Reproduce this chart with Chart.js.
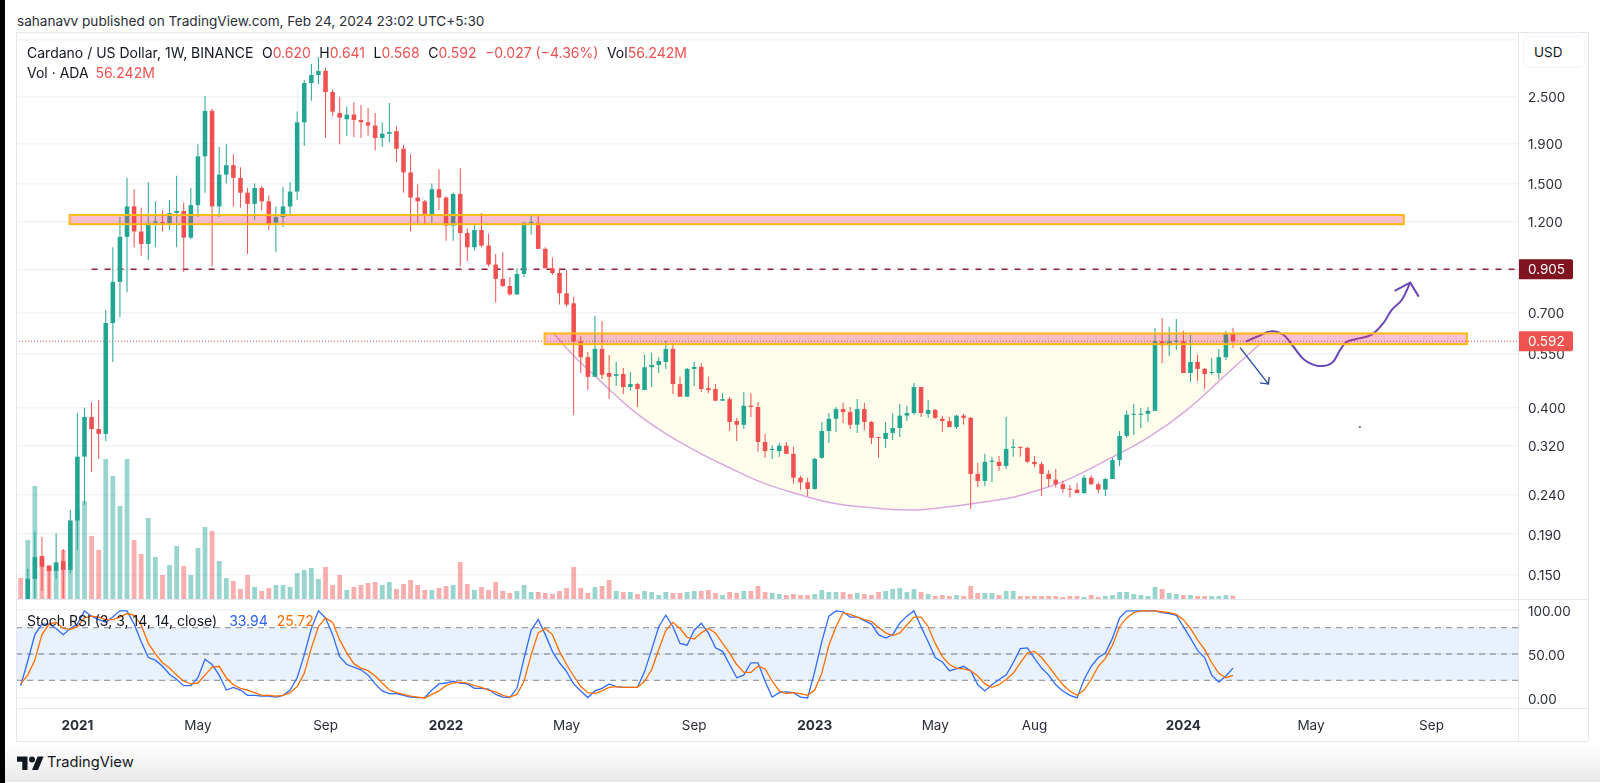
<!DOCTYPE html>
<html>
<head>
<meta charset="utf-8">
<title>Cardano / US Dollar</title>
<script src="https://cdn.jsdelivr.net/npm/chart.js@4"></script>
<style>
    html, body { margin: 0; padding: 0; background: #fff; }
    body { position: relative; width: 1600px; height: 783px; overflow: hidden; font-family: Inter, sans-serif; color: #131722; }
    canvas { position: absolute; left: 16px; }
    .abs { position: absolute; white-space: nowrap; }
    .line { position: absolute; background: #e4e6ee; }
    .red { color: #f0504f; }
    b.red { font-weight: 400; }
    #blackbar { position: absolute; left: 0; top: 0; width: 5px; height: 783px; background: #000; }
    #fade { position: absolute; left: 5px; right: 0; top: 741px; height: 41px; background: linear-gradient(#fff, #fafafa 30%, #e9e9e9); }
    #header { left: 17px; top: 12px; font-size: 13.6px; line-height: 18px; color: #2a2e39; }
    #legend1 { left: 27px; top: 44px; font-size: 14px; line-height: 18px; }
    #legend1 span { margin-left: 8.5px; }
    #legend2 { left: 27px; top: 64px; font-size: 14px; line-height: 18px; }
    #legend3 { left: 27px; top: 612px; font-size: 14px; line-height: 18px; }
    #usd { left: 1523px; top: 36px; width: 60px; height: 30px; line-height: 30px; border: 1px solid #f0f3fa; border-radius: 6px; background: #fff; font-size: 13.5px; text-indent: 10px; }
    #brand { left: 47px; top: 752px; font-size: 14.7px; line-height: 20px; color: #131722; }
    #logo { position: absolute; left: 17px; top: 755px; }
</style>
</head>
<body>
<div id="blackbar"></div>
<div id="fade"></div>
<div class="abs" id="header">sahanavv published on TradingView.com, Feb 24, 2024 23:02 UTC+5:30</div>

<canvas id="mainChart" width="1572" height="567" style="top:32px"></canvas>
<canvas id="rsiChart" width="1572" height="142" style="top:599px"></canvas>

<div class="line" style="left:16px;top:32px;width:1572px;height:1px"></div>
<div class="line" style="left:16px;top:599px;width:1572px;height:1px"></div>
<div class="line" style="left:16px;top:708px;width:1572px;height:1px"></div>
<div class="line" style="left:16px;top:741px;width:1572px;height:1px"></div>
<div class="line" style="left:16px;top:32px;width:1px;height:709px"></div>
<div class="line" style="left:1518px;top:32px;width:1px;height:709px"></div>
<div class="line" style="left:1588px;top:32px;width:1px;height:709px"></div>

<div class="abs" id="legend1">Cardano / US Dollar, 1W, BINANCE<span>O<b class="red">0.620</b></span><span>H<b class="red">0.641</b></span><span>L<b class="red">0.568</b></span><span>C<b class="red">0.592</b></span><span class="red">−0.027 (−4.36%)</span><span>Vol<b class="red">56.242M</b></span></div>
<div class="abs" id="legend2">Vol · ADA <span class="red" style="margin-left:3px">56.242M</span></div>
<div class="abs" id="legend3">Stoch RSI (3, 3, 14, 14, close) <span style="color:#2962ff;margin-left:8px">33.94</span> <span style="color:#ff6d00;margin-left:5px">25.72</span></div>
<div class="abs" id="usd">USD</div>

<svg id="logo" width="27" height="15" viewBox="0 0 36 20"><path fill="#131722" d="M14 20H7V9H0V2h14v18zM28 20h-8l7.5-18h8L28 20z"/><circle fill="#131722" cx="20" cy="6" r="4"/></svg>
<div class="abs" id="brand">TradingView</div>

<script>
// weekly candles, bar 0 = 9 Nov 2020
const opens = [
    .108, .126, .146, .167, .158, .153, .162, .154, .206, .300,
    .379, .353, .343, .659, .84, 1.095, 1.31, 1.13, 1.05, 1.19,
    1.195, 1.185, 1.26, 1.275, 1.09, 1.32, 1.76, 2.30, 1.31, 1.58,
    1.67, 1.55, 1.42, 1.33, 1.46, 1.35, 1.19, 1.23, 1.31, 1.43,
    2.15, 2.71, 2.84, 2.91, 2.57, 2.27, 2.19, 2.25, 2.18, 2.15,
    2.11, 1.96, 2.01, 2.04, 1.84, 1.60, 1.38, 1.35, 1.24, 1.45,
    1.38, 1.17, 1.41, 1.12, 1.03, 1.14, 1.04, .93, .855, .82,
    .78, .88, 1.185, 1.19, 1.02, .91, .885, .785, .74, .592,
    .539, .480, .566, .491, .483, .488, .452, .460, .444, .508,
    .515, .524, .566, .460, .427, .503, .509, .449, .447, .417,
    .421, .370, .362, .405, .402, .327, .312, .310, .320, .305,
    .265, .258, .248, .298, .349, .375, .397, .390, .362, .397,
    .368, .337, .333, .345, .355, .382, .388, .452, .386, .395,
    .375, .370, .357, .382, .377, .271, .260, .291, .291, .284,
    .316, .318, .316, .291, .287, .271, .262, .255, .248, .247,
    .242, .265, .255, .247, .263, .294, .339, .384, .384, .386,
    .393, .592, .578, .590, .592, .491, .524, .503, .491, .491, .539, .620
];
const highs = [
    .114, .155, .193, .187, .158, .191, .174, .219, .388, .400,
    .414, .419, .712, 1.03, 1.23, 1.55, 1.45, 1.30, 1.51, 1.35,
    1.28, 1.36, 1.57, 1.34, 1.46, 1.89, 2.51, 2.33, 1.86, 1.89,
    1.78, 1.65, 1.46, 1.50, 1.48, 1.40, 1.31, 1.47, 1.51, 2.29,
    2.76, 3.03, 3.16, 2.97, 2.61, 2.50, 2.36, 2.42, 2.38, 2.34,
    2.27, 2.15, 2.41, 2.10, 1.88, 1.78, 1.49, 1.36, 1.50, 1.63,
    1.39, 1.42, 1.64, 1.15, 1.18, 1.26, 1.115, .99, 1.00, .865,
    .91, 1.195, 1.25, 1.25, 1.03, .97, .91, .90, .77, .61,
    .556, .688, .667, .546, .524, .506, .494, .463, .546, .553,
    .539, .593, .586, .480, .506, .524, .520, .480, .460, .436,
    .426, .377, .439, .436, .414, .343, .321, .325, .327, .318,
    .268, .265, .298, .368, .388, .402, .412, .402, .421, .412,
    .370, .337, .368, .388, .409, .405, .463, .452, .419, .397,
    .382, .379, .384, .386, .379, .289, .305, .300, .301, .379,
    .333, .318, .318, .301, .291, .277, .279, .260, .254, .257,
    .269, .269, .258, .265, .298, .349, .393, .409, .400, .402,
    .64, .68, .645, .675, .63, .615, .546, .506, .536, .566, .63, .641
];
const lows = [
    .100, .124, .130, .136, .130, .146, .130, .151, .173, .226,
    .274, .296, .329, .524, .683, .79, 1.03, .98, .955, 1.03,
    1.13, 1.14, 1.03, .89, 1.08, 1.23, 1.42, .92, 1.23, 1.50,
    1.31, 1.30, .99, 1.21, 1.28, 1.14, 1.00, 1.16, 1.24, 1.36,
    1.87, 2.44, 2.69, 1.96, 2.23, 1.89, 1.98, 1.97, 1.96, 1.99,
    1.82, 1.86, 1.91, 1.70, 1.42, 1.13, 1.19, 1.18, 1.19, 1.28,
    1.07, 1.07, .92, .95, 1.01, 1.03, .92, .745, .815, .775,
    .78, .865, 1.11, 1.02, .91, .875, .735, .725, .384, .491,
    .444, .480, .474, .421, .455, .434, .442, .402, .444, .452,
    .491, .503, .434, .427, .427, .455, .439, .436, .417, .417,
    .349, .329, .353, .379, .309, .298, .296, .300, .305, .256,
    .247, .238, .247, .296, .325, .347, .366, .353, .345, .351,
    .323, .298, .316, .331, .337, .370, .384, .379, .377, .375,
    .347, .357, .353, .362, .220, .251, .252, .258, .276, .279,
    .300, .300, .289, .282, .238, .251, .250, .242, .236, .242,
    .241, .254, .242, .238, .263, .284, .335, .341, .355, .368,
    .393, .52, .542, .562, .491, .466, .469, .447, .486, .474, .530, .568
];
const closes = [
    .102, .146, .166, .157, .153, .161, .154, .206, .300, .379,
    .353, .343, .659, .84, 1.095, 1.31, 1.13, 1.05, 1.19, 1.20,
    1.185, 1.26, 1.275, 1.09, 1.32, 1.76, 2.30, 1.31, 1.58, 1.67,
    1.55, 1.42, 1.33, 1.46, 1.35, 1.18, 1.23, 1.31, 1.43, 2.15,
    2.71, 2.84, 2.91, 2.57, 2.29, 2.21, 2.25, 2.18, 2.15, 2.11,
    1.96, 2.01, 2.03, 1.84, 1.60, 1.38, 1.35, 1.24, 1.45, 1.38,
    1.17, 1.41, 1.12, 1.03, 1.14, 1.04, .93, .855, .82, .78,
    .88, 1.19, 1.195, 1.02, .91, .885, .785, .735, .592, .539,
    .480, .566, .486, .480, .488, .452, .460, .447, .508, .515,
    .527, .566, .460, .427, .503, .509, .447, .444, .417, .421,
    .368, .362, .405, .402, .327, .310, .314, .320, .305, .265,
    .258, .248, .296, .349, .375, .397, .390, .362, .397, .368,
    .335, .335, .345, .355, .382, .388, .452, .388, .395, .377,
    .370, .357, .382, .377, .271, .260, .291, .293, .284, .314,
    .318, .316, .291, .287, .271, .263, .255, .248, .247, .242,
    .265, .255, .247, .263, .294, .339, .384, .386, .386, .393,
    .592, .578, .592, .594, .491, .524, .503, .488, .494, .539, .620, .592
];
// volume in millions of ADA
const volumes = [
    357, 1003, 1921, 697, 561, 612, 833, 1309, 1530, 1666,
    1071, 833, 2380, 2091, 1581, 2380, 1003, 765, 1377, 714,
    408, 578, 901, 561, 408, 867, 1224, 1156, 646, 357,
    306, 170, 408, 204, 136, 187, 238, 238, 204, 442,
    493, 527, 340, 544, 238, 408, 153, 204, 238, 272,
    289, 238, 289, 170, 255, 323, 238, 153, 153, 187,
    221, 238, 629, 255, 153, 204, 153, 289, 136, 102,
    136, 238, 119, 119, 102, 85, 136, 187, 544, 187,
    102, 204, 221, 323, 136, 119, 119, 85, 136, 119,
    68, 119, 102, 102, 119, 136, 136, 153, 102, 68,
    119, 102, 136, 136, 221, 119, 102, 85, 68, 85,
    68, 68, 85, 153, 119, 119, 119, 85, 102, 85,
    68, 119, 136, 170, 187, 119, 170, 119, 85, 51,
    68, 51, 68, 51, 221, 102, 102, 102, 68, 136,
    136, 51, 51, 51, 51, 51, 51, 34, 51, 51,
    34, 68, 34, 51, 68, 119, 119, 85, 68, 51,
    204, 170, 102, 85, 68, 68, 51, 51, 51, 51, 68, 56.242
];
const stochK = [
    14, 42, 72, 84, 84, 79, 72, 79, 84, 99,
    93, 89, 86, 92, 99, 99, 84, 64, 46, 43,
    36, 27, 21, 14, 14, 23, 44, 38, 26, 9,
    12, 9, 3, 3, 2, 2, 1, 3, 9, 23,
    49, 79, 99, 91, 72, 47, 38, 35, 32, 26,
    16, 8, 5, 5, 3, 1, 0.5, 0.5, 9, 16,
    17, 19, 17, 16, 11, 11, 10, 4, 1, 0.5,
    11, 45, 77, 89, 72, 53, 40, 30, 16, 8,
    0.5, 8, 11, 16, 13, 12, 12, 12, 30, 55,
    81, 94, 81, 62, 60, 77, 85, 74, 57, 53,
    38, 23, 26, 40, 40, 19, 1, 6, 7, 6,
    1, 0, 30, 64, 93, 99, 98, 92, 92, 88,
    84, 72, 68, 72, 85, 93, 99, 81, 64, 46,
    41, 31, 33, 36, 31, 15, 8, 15, 21, 26,
    40, 56, 57, 45, 34, 26, 15, 8, 3, 0,
    21, 36, 46, 51, 68, 91, 99, 99, 99, 99,
    99, 97, 96, 94, 81, 68, 54, 46, 26, 18, 25, 33.94
];
const stochD = [
    16, 26, 43, 72, 84, 86, 79, 78, 81, 91,
    93, 92, 89, 89, 92, 96, 94, 83, 62, 50,
    40, 34, 26, 19, 16, 17, 26, 35, 36, 23,
    15, 11, 9, 6, 3, 3, 2, 3, 6, 13,
    28, 57, 81, 91, 86, 66, 51, 39, 34, 31,
    25, 17, 9, 6, 4, 2, 1, 0, 4, 8,
    14, 17, 18, 17, 14, 12, 9, 7, 3, 1,
    4, 19, 49, 74, 79, 72, 53, 38, 25, 13,
    6, 5, 8, 12, 13, 12, 12, 12, 19, 32,
    55, 77, 86, 79, 69, 67, 74, 79, 74, 62,
    51, 38, 29, 29, 36, 33, 19, 8, 5, 6,
    5, 3, 9, 28, 60, 81, 97, 95, 92, 89,
    87, 80, 74, 71, 74, 83, 92, 92, 81, 62,
    47, 38, 34, 33, 31, 25, 16, 12, 15, 21,
    28, 40, 51, 53, 46, 36, 25, 15, 8, 3,
    9, 21, 36, 45, 60, 81, 91, 97, 99, 99,
    99, 98, 97, 95, 89, 79, 66, 55, 40, 28, 23, 25.72
];

const priceTicks = [3.5, 2.5, 1.9, 1.5, 1.2, 0.9, 0.7, 0.55, 0.4, 0.32, 0.24, 0.19, 0.15];
const hiddenPriceLabels = [3.5, 0.9];
const rsiTicks = [100, 50, 0];
const rsiLevels = [80, 50, 20];
const timeTicks = [8, 25, 43, 60, 77, 95, 112, 129, 143, 164, 182, 199];
const timeLabels = ['2021', 'May', 'Sep', '2022', 'May', 'Sep', '2023', 'May', 'Aug', '2024', 'May', 'Sep'];

// drawings on the chart
const resistance = 0.905;
const lastPrice = 0.592;
const resistanceFrom = 10;
const zoneFrom = [6.9, 73.9];
const zoneTo = [195.1, 204];
const zoneLow = [1.18, 0.582];
const zoneHigh = [1.245, 0.62];
const cupX = [75.1, 77.9, 81.3, 85.9, 90.6, 95.4, 100, 104.7, 109.5, 114.1, 118.8, 125.4, 130.6, 135.3, 139.5, 142.8, 147.6, 154.1, 159.3, 164.5, 170.2, 174.8];
const cupPrice = [.622, .546, .477, .40, .347, .309, .281, .257, .241, .229, .223, .219, .223, .229, .235, .244, .2616, .30, .338, .395, .49, .582];
const pathX = [172.8, 174.3, 176.4, 178.1, 179.5, 181.1, 183, 184.9, 186.1, 187, 188.4, 190.5, 192.2, 193.4, 194.8, 196];
const pathPrice = [.591, .607, .628, .615, .574, .530, .512, .520, .562, .589, .600, .615, .659, .712, .755, .836];
const pathHeadX = [193.8, 196, 197.2];
const pathHeadPrice = [.796, .836, .77];
const dropX = [172, 176];
const dropPrice = [.57, .46];
const dropHeadX = [174.8, 176, 176.1];
const dropHeadPrice = [.463, .46, .48];
const dotX = [188.9];
const dotPrice = [.357];

const tagPrices = [0.905, 0.592];
const tagColors = ['#7f1420', '#ef5350'];

const xMin = -0.66;
const xMax = 211.2;
const upColor = '#22a693';
const downColor = '#f0504f';
const upVolume = 'rgba(38,166,154,0.47)';
const downVolume = 'rgba(239,83,80,0.47)';
const gridColor = '#f1f3f8';
const axisFont = { family: 'Inter, sans-serif', size: 13.5 };
const axisText = '#2a2e39';

function points(xs, ys) {
    return xs.map((x, i) => ({ x: x, y: ys[i] }));
}

function candleColors(up, down) {
    return closes.map((c, i) => (c >= opens[i] ? up : down));
}

function lineSet(xs, ys, color, width, extra) {
    return Object.assign({
        type: 'line',
        data: points(xs, ys),
        borderColor: color,
        borderWidth: width,
        pointRadius: 0,
        tension: 0,
        yAxisID: 'y',
        order: 1
    }, extra);
}

// the axis sizes have to be fixed so both panes line up
function fixSideAxis(scale) {
    scale.width = 70;
    scale.paddingTop = 0;
    scale.paddingBottom = 0;
}

function fixTimeAxis(scale) {
    scale.height = 33;
    scale.paddingLeft = 0;
    scale.paddingRight = 0;
}

const zonePlugin = {
    id: 'zones',
    afterDatasetsDraw(chart) {
        const ctx = chart.ctx;
        const x = chart.scales.x;
        const y = chart.scales.y;
        ctx.save();
        zoneFrom.forEach((from, i) => {
            const left = x.getPixelForValue(from);
            const right = x.getPixelForValue(zoneTo[i]);
            const top = y.getPixelForValue(zoneHigh[i]);
            const bottom = y.getPixelForValue(zoneLow[i]);
            ctx.fillStyle = 'rgba(233,60,110,0.32)';
            ctx.fillRect(left, top, right - left, bottom - top);
            ctx.strokeStyle = '#fdb813';
            ctx.lineWidth = 2;
            ctx.strokeRect(left, top, right - left, bottom - top);
        });
        ctx.restore();
    },
    afterDraw(chart) {
        const ctx = chart.ctx;
        const y = chart.scales.y;
        const left = chart.chartArea.right;
        ctx.save();
        tagPrices.forEach((price, i) => {
            const mid = y.getPixelForValue(price);
            ctx.fillStyle = tagColors[i];
            ctx.beginPath();
            ctx.roundRect(left, mid - 10, 55, 20, 2);
            ctx.fill();
            ctx.fillStyle = '#fff';
            ctx.font = '13.5px Inter, sans-serif';
            ctx.textBaseline = 'middle';
            ctx.fillText(price.toFixed(3), left + 10, mid + 0.5);
        });
        ctx.restore();
    }
};

function drawMain() {
    const barX = opens.map((o, i) => i);
    new Chart('mainChart', {
        data: {
            datasets: [
                {
                    type: 'bar',
                    data: points(barX, volumes),
                    yAxisID: 'yVol',
                    grouped: false,
                    barPercentage: 0.84,
                    backgroundColor: candleColors(upVolume, downVolume),
                    order: 9
                },
                lineSet(cupX, cupPrice, '#d9a9dd', 1.5, {
                    tension: 0.4,
                    fill: { value: 0.62 },
                    backgroundColor: '#fffdeb',
                    order: 8
                }),
                lineSet([xMin, xMax], [lastPrice, lastPrice], '#ef5350', 1, { borderDash: [1, 2], order: 7 }),
                lineSet([resistanceFrom, xMax], [resistance, resistance], '#8f2333', 1.4, { borderDash: [6, 7], order: 7 }),
                {
                    type: 'bar',
                    data: barX.map(i => ({ x: i, y: [lows[i], highs[i]] })),
                    grouped: false,
                    maxBarThickness: 1,
                    backgroundColor: candleColors(upColor, downColor),
                    order: 3
                },
                {
                    type: 'bar',
                    data: barX.map(i => ({ x: i, y: [opens[i], closes[i]] })),
                    grouped: false,
                    barPercentage: 0.8,
                    minBarLength: 1,
                    backgroundColor: candleColors(upColor, downColor),
                    order: 2
                },
                lineSet(dropX, dropPrice, '#23479b', 1.3),
                lineSet(dropHeadX, dropHeadPrice, '#23479b', 1.3),
                lineSet(pathX, pathPrice, '#6b46b8', 2, { tension: 0.4 }),
                lineSet(pathHeadX, pathHeadPrice, '#6b46b8', 2),
                lineSet(dotX, dotPrice, '#6b46b8', 0, { pointRadius: 1, pointBackgroundColor: '#6b46b8', pointBorderWidth: 0 })
            ]
        },
        options: {
            responsive: false,
            animation: false,
            events: [],
            plugins: { legend: { display: false }, tooltip: { enabled: false } },
            layout: { padding: 0, autoPadding: false },
            scales: {
                x: { type: 'linear', min: xMin, max: xMax, offset: false, display: false, grid: { display: false, offset: false } },
                y: {
                    type: 'logarithmic',
                    position: 'right',
                    min: 0.1297,
                    max: 3.66,
                    afterBuildTicks: scale => { scale.ticks = priceTicks.map(v => ({ value: v })); },
                    afterFit: fixSideAxis,
                    border: { display: false },
                    grid: { color: gridColor, lineWidth: 1.4, drawTicks: false },
                    ticks: {
                        autoSkip: false,
                        padding: 10,
                        labelOffset: 1.5,
                        color: axisText,
                        font: axisFont,
                        callback: v => (hiddenPriceLabels.includes(v) ? '' : v.toFixed(3))
                    }
                },
                yVol: { type: 'linear', axis: 'y', position: 'left', display: false, min: 0, max: 9639 }
            }
        },
        plugins: [zonePlugin]
    });
}

function tickFont(ctx) {
    const label = ctx.tick ? timeLabels[timeTicks.indexOf(ctx.tick.value)] : '';
    if (label && label.length === 4)
        return { family: axisFont.family, size: 13.5, weight: 'bold' };
    return axisFont;
}

function drawRsi() {
    const barX = opens.map((o, i) => i);
    const dashed = rsiLevels.map(level =>
        lineSet([xMin, xMax], [level, level], '#9a9da6', 1.3, { borderDash: [6, 5], order: 4 }));
    new Chart('rsiChart', {
        data: {
            datasets: [
                lineSet([xMin, xMax], [rsiLevels[0], rsiLevels[0]], 'rgba(0,0,0,0)', 0, {
                    fill: { value: rsiLevels[2] },
                    backgroundColor: 'rgba(33,120,230,0.1)',
                    order: 5
                }),
                ...dashed,
                lineSet(barX, stochD, '#ff6d00', 1.3, { order: 2 }),
                lineSet(barX, stochK, '#2f6bff', 1.3, { order: 3 })
            ]
        },
        options: {
            responsive: false,
            animation: false,
            events: [],
            plugins: { legend: { display: false }, tooltip: { enabled: false } },
            layout: { padding: 0, autoPadding: false },
            scales: {
                x: {
                    type: 'linear',
                    min: xMin,
                    max: xMax,
                    afterBuildTicks: scale => { scale.ticks = timeTicks.map(v => ({ value: v })); },
                    afterFit: fixTimeAxis,
                    border: { display: false },
                    grid: { display: false, drawTicks: false },
                    ticks: {
                        autoSkip: false,
                        maxRotation: 0,
                        padding: 10,
                        color: axisText,
                        font: tickFont,
                        callback: v => timeLabels[timeTicks.indexOf(v)]
                    }
                },
                y: {
                    type: 'linear',
                    position: 'right',
                    min: -11.4,
                    max: 112.5,
                    afterBuildTicks: scale => { scale.ticks = rsiTicks.map(v => ({ value: v })); },
                    afterFit: fixSideAxis,
                    border: { display: false },
                    grid: { color: gridColor, lineWidth: 1.4, drawTicks: false },
                    ticks: {
                        autoSkip: false,
                        padding: 10,
                        labelOffset: 1.5,
                        color: axisText,
                        font: axisFont,
                        callback: v => v.toFixed(2)
                    }
                }
            }
        }
    });
}

drawMain();
drawRsi();
</script>
</body>
</html>
